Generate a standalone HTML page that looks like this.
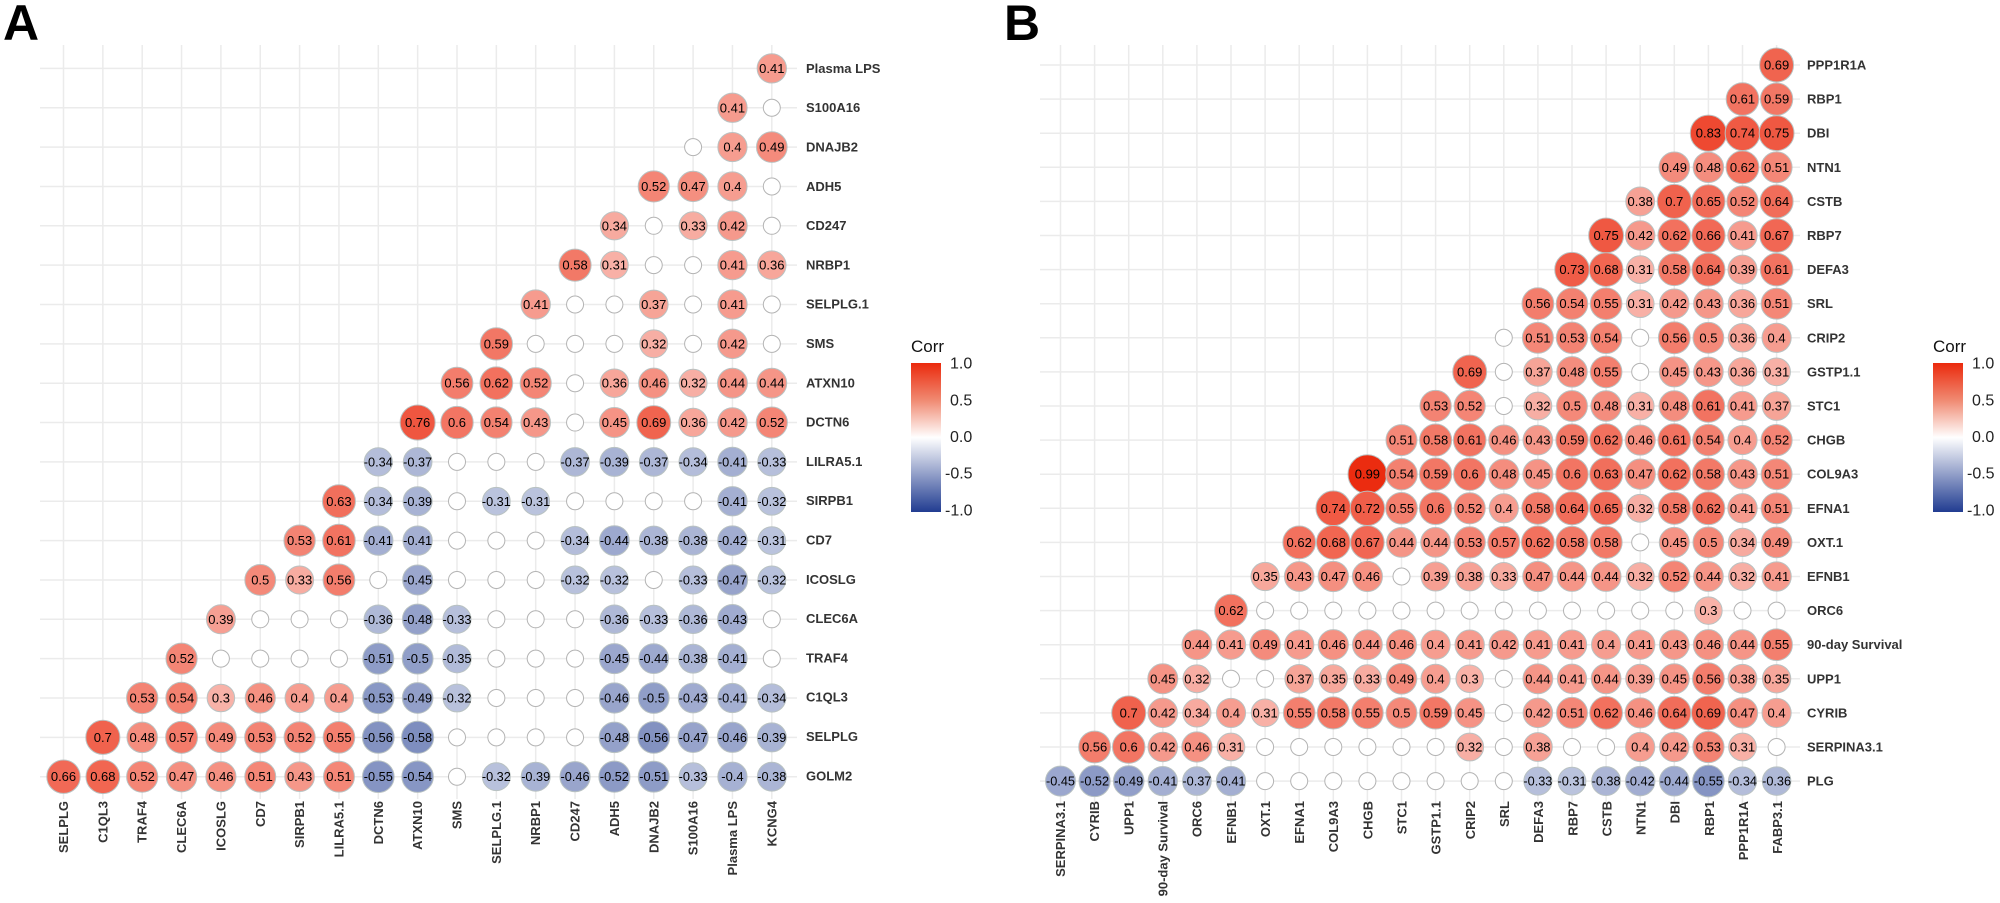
<!DOCTYPE html>
<html><head><meta charset="utf-8">
<style>
html,body{margin:0;padding:0;background:#fff;}
svg{display:block;font-family:"Liberation Sans",Arial,sans-serif;}
.lab{font-size:13px;font-weight:bold;fill:#333;}
.num{font-size:13px;fill:#000;}
.leg{font-size:16px;fill:#222;}
</style></head>
<body>
<svg id="s" width="2000" height="903" viewBox="0 0 2000 903" xmlns="http://www.w3.org/2000/svg">
<defs>
<linearGradient id="g" x1="0" y1="0" x2="0" y2="1">
<stop offset="0" stop-color="#eb2a0d"/>
<stop offset="0.25" stop-color="#f08a72"/>
<stop offset="0.5" stop-color="#ffffff"/>
<stop offset="1" stop-color="#213c91"/>
</linearGradient>
</defs>
<g id="grid"></g>
<g id="cells"></g>
<text x="3" y="40" font-size="50" font-weight="bold" fill="#000">A</text>
<text x="1004" y="40" font-size="50" font-weight="bold" fill="#000">B</text>

<g class="lab" dominant-baseline="central">
<text x="806" y="68.4">Plasma LPS</text>
<text x="806" y="107.7">S100A16</text>
<text x="806" y="147">DNAJB2</text>
<text x="806" y="186.3">ADH5</text>
<text x="806" y="225.6">CD247</text>
<text x="806" y="264.9">NRBP1</text>
<text x="806" y="304.2">SELPLG.1</text>
<text x="806" y="343.5">SMS</text>
<text x="806" y="382.8">ATXN10</text>
<text x="806" y="422.1">DCTN6</text>
<text x="806" y="461.4">LILRA5.1</text>
<text x="806" y="500.7">SIRPB1</text>
<text x="806" y="540">CD7</text>
<text x="806" y="579.3">ICOSLG</text>
<text x="806" y="618.6">CLEC6A</text>
<text x="806" y="657.9">TRAF4</text>
<text x="806" y="697.2">C1QL3</text>
<text x="806" y="736.5">SELPLG</text>
<text x="806" y="775.8">GOLM2</text>
</g>
<g class="lab" text-anchor="end" dominant-baseline="central">
<text transform="translate(63.5,801) rotate(-90)">SELPLG</text>
<text transform="translate(102.85,801) rotate(-90)">C1QL3</text>
<text transform="translate(142.2,801) rotate(-90)">TRAF4</text>
<text transform="translate(181.55,801) rotate(-90)">CLEC6A</text>
<text transform="translate(220.9,801) rotate(-90)">ICOSLG</text>
<text transform="translate(260.25,801) rotate(-90)">CD7</text>
<text transform="translate(299.6,801) rotate(-90)">SIRPB1</text>
<text transform="translate(338.95,801) rotate(-90)">LILRA5.1</text>
<text transform="translate(378.3,801) rotate(-90)">DCTN6</text>
<text transform="translate(417.65,801) rotate(-90)">ATXN10</text>
<text transform="translate(457,801) rotate(-90)">SMS</text>
<text transform="translate(496.35,801) rotate(-90)">SELPLG.1</text>
<text transform="translate(535.7,801) rotate(-90)">NRBP1</text>
<text transform="translate(575.05,801) rotate(-90)">CD247</text>
<text transform="translate(614.4,801) rotate(-90)">ADH5</text>
<text transform="translate(653.75,801) rotate(-90)">DNAJB2</text>
<text transform="translate(693.1,801) rotate(-90)">S100A16</text>
<text transform="translate(732.45,801) rotate(-90)">Plasma LPS</text>
<text transform="translate(771.8,801) rotate(-90)">KCNG4</text>
</g>

<g class="lab" dominant-baseline="central">
<text x="1807" y="65">PPP1R1A</text>
<text x="1807" y="99.1">RBP1</text>
<text x="1807" y="133.2">DBI</text>
<text x="1807" y="167.3">NTN1</text>
<text x="1807" y="201.4">CSTB</text>
<text x="1807" y="235.5">RBP7</text>
<text x="1807" y="269.6">DEFA3</text>
<text x="1807" y="303.7">SRL</text>
<text x="1807" y="337.8">CRIP2</text>
<text x="1807" y="371.9">GSTP1.1</text>
<text x="1807" y="406">STC1</text>
<text x="1807" y="440.1">CHGB</text>
<text x="1807" y="474.2">COL9A3</text>
<text x="1807" y="508.3">EFNA1</text>
<text x="1807" y="542.4">OXT.1</text>
<text x="1807" y="576.5">EFNB1</text>
<text x="1807" y="610.6">ORC6</text>
<text x="1807" y="644.7">90-day Survival</text>
<text x="1807" y="678.8">UPP1</text>
<text x="1807" y="712.9">CYRIB</text>
<text x="1807" y="747">SERPINA3.1</text>
<text x="1807" y="781.1">PLG</text>
</g>
<g class="lab" text-anchor="end" dominant-baseline="central">
<text transform="translate(1060.5,801) rotate(-90)">SERPINA3.1</text>
<text transform="translate(1094.65,801) rotate(-90)">CYRIB</text>
<text transform="translate(1128.8,801) rotate(-90)">UPP1</text>
<text transform="translate(1162.95,801) rotate(-90)">90-day Survival</text>
<text transform="translate(1197.1,801) rotate(-90)">ORC6</text>
<text transform="translate(1231.25,801) rotate(-90)">EFNB1</text>
<text transform="translate(1265.4,801) rotate(-90)">OXT.1</text>
<text transform="translate(1299.55,801) rotate(-90)">EFNA1</text>
<text transform="translate(1333.7,801) rotate(-90)">COL9A3</text>
<text transform="translate(1367.85,801) rotate(-90)">CHGB</text>
<text transform="translate(1402,801) rotate(-90)">STC1</text>
<text transform="translate(1436.15,801) rotate(-90)">GSTP1.1</text>
<text transform="translate(1470.3,801) rotate(-90)">CRIP2</text>
<text transform="translate(1504.45,801) rotate(-90)">SRL</text>
<text transform="translate(1538.6,801) rotate(-90)">DEFA3</text>
<text transform="translate(1572.75,801) rotate(-90)">RBP7</text>
<text transform="translate(1606.9,801) rotate(-90)">CSTB</text>
<text transform="translate(1641.05,801) rotate(-90)">NTN1</text>
<text transform="translate(1675.2,801) rotate(-90)">DBI</text>
<text transform="translate(1709.35,801) rotate(-90)">RBP1</text>
<text transform="translate(1743.5,801) rotate(-90)">PPP1R1A</text>
<text transform="translate(1777.65,801) rotate(-90)">FABP3.1</text>
</g>

<g>
<text x="911" y="352" font-size="17" fill="#111">Corr</text>
<rect x="911" y="363" width="30" height="149" fill="url(#g)"/>
<g class="leg" dominant-baseline="central">
<text x="950" y="364">1.0</text>
<text x="950" y="401">0.5</text>
<text x="950" y="437.5">0.0</text>
<text x="945" y="474">-0.5</text>
<text x="945" y="511">-1.0</text>
</g>
<text x="1933" y="352" font-size="17" fill="#111">Corr</text>
<rect x="1933" y="363" width="30" height="149" fill="url(#g)"/>
<g class="leg" dominant-baseline="central">
<text x="1972" y="364">1.0</text>
<text x="1972" y="401">0.5</text>
<text x="1972" y="437.5">0.0</text>
<text x="1967" y="474">-0.5</text>
<text x="1967" y="511">-1.0</text>
</g>
</g>
</svg>
<script>
var n=null;
var A=[
["0.41"],
["0.41",n],
[n,"0.4","0.49"],
["0.52","0.47","0.4",n],
["0.34",n,"0.33","0.42",n],
["0.58","0.31",n,n,"0.41","0.36"],
["0.41",n,n,"0.37",n,"0.41",n],
["0.59",n,n,n,"0.32",n,"0.42",n],
["0.56","0.62","0.52",n,"0.36","0.46","0.32","0.44","0.44"],
["0.76","0.6","0.54","0.43",n,"0.45","0.69","0.36","0.42","0.52"],
["-0.34","-0.37",n,n,n,"-0.37","-0.39","-0.37","-0.34","-0.41","-0.33"],
["0.63","-0.34","-0.39",n,"-0.31","-0.31",n,n,n,n,"-0.41","-0.32"],
["0.53","0.61","-0.41","-0.41",n,n,n,"-0.34","-0.44","-0.38","-0.38","-0.42","-0.31"],
["0.5","0.33","0.56",n,"-0.45",n,n,n,"-0.32","-0.32",n,"-0.33","-0.47","-0.32"],
["0.39",n,n,n,"-0.36","-0.48","-0.33",n,n,n,"-0.36","-0.33","-0.36","-0.43",n],
["0.52",n,n,n,n,"-0.51","-0.5","-0.35",n,n,n,"-0.45","-0.44","-0.38","-0.41",n],
["0.53","0.54","0.3","0.46","0.4","0.4","-0.53","-0.49","-0.32",n,n,n,"-0.46","-0.5","-0.43","-0.41","-0.34"],
["0.7","0.48","0.57","0.49","0.53","0.52","0.55","-0.56","-0.58",n,n,n,n,"-0.48","-0.56","-0.47","-0.46","-0.39"],
["0.66","0.68","0.52","0.47","0.46","0.51","0.43","0.51","-0.55","-0.54",n,"-0.32","-0.39","-0.46","-0.52","-0.51","-0.33","-0.4","-0.38"]
];
var B=[
["0.69"],
["0.61","0.59"],
["0.83","0.74","0.75"],
["0.49","0.48","0.62","0.51"],
["0.38","0.7","0.65","0.52","0.64"],
["0.75","0.42","0.62","0.66","0.41","0.67"],
["0.73","0.68","0.31","0.58","0.64","0.39","0.61"],
["0.56","0.54","0.55","0.31","0.42","0.43","0.36","0.51"],
[n,"0.51","0.53","0.54",n,"0.56","0.5","0.36","0.4"],
["0.69",n,"0.37","0.48","0.55",n,"0.45","0.43","0.36","0.31"],
["0.53","0.52",n,"0.32","0.5","0.48","0.31","0.48","0.61","0.41","0.37"],
["0.51","0.58","0.61","0.46","0.43","0.59","0.62","0.46","0.61","0.54","0.4","0.52"],
["0.99","0.54","0.59","0.6","0.48","0.45","0.6","0.63","0.47","0.62","0.58","0.43","0.51"],
["0.74","0.72","0.55","0.6","0.52","0.4","0.58","0.64","0.65","0.32","0.58","0.62","0.41","0.51"],
["0.62","0.68","0.67","0.44","0.44","0.53","0.57","0.62","0.58","0.58",n,"0.45","0.5","0.34","0.49"],
["0.35","0.43","0.47","0.46",n,"0.39","0.38","0.33","0.47","0.44","0.44","0.32","0.52","0.44","0.32","0.41"],
["0.62",n,n,n,n,n,n,n,n,n,n,n,n,n,"0.3",n,n],
["0.44","0.41","0.49","0.41","0.46","0.44","0.46","0.4","0.41","0.42","0.41","0.41","0.4","0.41","0.43","0.46","0.44","0.55"],
["0.45","0.32",n,n,"0.37","0.35","0.33","0.49","0.4","0.3",n,"0.44","0.41","0.44","0.39","0.45","0.56","0.38","0.35"],
["0.7","0.42","0.34","0.4","0.31","0.55","0.58","0.55","0.5","0.59","0.45",n,"0.42","0.51","0.62","0.46","0.64","0.69","0.47","0.4"],
["0.56","0.6","0.42","0.46","0.31",n,n,n,n,n,n,"0.32",n,"0.38",n,n,"0.4","0.42","0.53","0.31",n],
["-0.45","-0.52","-0.49","-0.41","-0.37","-0.41",n,n,n,n,n,n,n,n,"-0.33","-0.31","-0.38","-0.42","-0.44","-0.55","-0.34","-0.36"]
];
var NS="http://www.w3.org/2000/svg";
function el(t,a,p){var e=document.createElementNS(NS,t);for(var k in a)e.setAttribute(k,a[k]);p.appendChild(e);return e;}
function col(v){var t=Math.abs(v),c;
 if(v>0){t=Math.pow(t,0.85);c=[235,42,14];}else{c=[33,60,145];}
 return "rgb("+[0,1,2].map(function(i){return Math.round(255*(1-t)+c[i]*t)}).join(",")+")";}
var grid=document.getElementById("grid"),cells=document.getElementById("cells");
function panel(D,N,x0,y0,st,gx0,gx1,gy0,gy1){
 for(var i=0;i<N;i++){
  el("line",{x1:x0+i*st,x2:x0+i*st,y1:gy0,y2:gy1,stroke:"#ebebeb","stroke-width":1.5},grid);
  el("line",{x1:gx0,x2:gx1,y1:y0+i*st,y2:y0+i*st,stroke:"#ebebeb","stroke-width":1.5},grid);
 }
 for(var r=0;r<N;r++){var row=D[r];var c0=N-1-r;
  for(var j=0;j<row.length;j++){var x=x0+(c0+j)*st,y=y0+r*st,v=row[j];
   if(v===null){el("circle",{cx:x,cy:y,r:8.5,fill:"#fff",stroke:"#b4b4b4","stroke-width":1},cells);}
   else{var f=parseFloat(v);var rr=11.3+8.2*Math.abs(f);
    el("circle",{cx:x,cy:y,r:rr,fill:col(f),stroke:"#b9c2c2","stroke-width":1},cells);
    var t=el("text",{x:x,y:y,"text-anchor":"middle","dominant-baseline":"central","class":"num"},cells);
    t.textContent=v;
    if(v.length>=5){t.setAttribute("textLength","29");t.setAttribute("lengthAdjust","spacingAndGlyphs");}
   }
  }
 }
}
panel(A,19,63.5,68.4,39.35,40,797,45,799);
panel(B,22,1060.5,65,34.1,1040,1800,45,804);
</script>
</body></html>
